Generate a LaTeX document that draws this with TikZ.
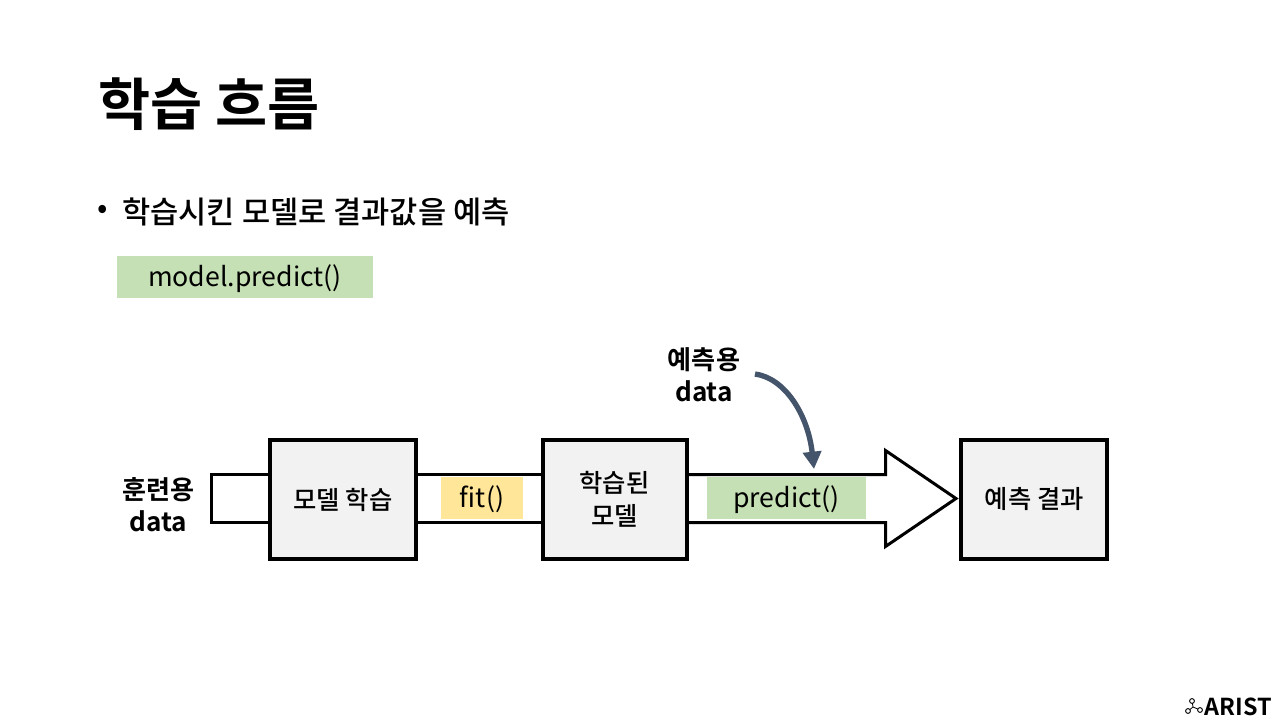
\documentclass[tikz,border=0pt]{standalone}
\usepackage{fontspec}
\setmainfont{Noto Sans CJK KR}
\newfontfamily\medf{Noto Sans CJK KR Medium}
\newfontfamily\boldf{Noto Sans CJK KR Bold}
\usetikzlibrary{calc,arrows.meta}
\definecolor{boxfill}{HTML}{F2F2F2}
\definecolor{greenhl}{HTML}{C5E0B4}
\definecolor{yellowhl}{HTML}{FFE699}
\definecolor{slatec}{HTML}{44546A}
\tikzset{
  x=0.75pt,y=-0.75pt,
  stagebox/.style={draw=black,fill=boxfill,line width=3pt,minimum width=109.5pt,minimum height=89.25pt,inner sep=0pt,align=center,font=\medf\fontsize{19}{25}\selectfont},
  hl/.style={inner sep=0pt,minimum height=31.5pt,text height=18pt,text depth=4pt,font=\fontsize{20}{24}\selectfont},
  pipe/.style={line width=2.25pt,draw=black,line join=miter},
  lab/.style={inner sep=0pt,align=center,font=\boldf\fontsize{19.6}{24}\selectfont},
}
\begin{document}
\begin{tikzpicture}
\useasboundingbox (0,0) rectangle (1280,720);
\fill[white] (0,0) rectangle (1280,720);
\node[anchor=west,inner sep=0pt,font=\boldf\fontsize{42.5}{50}\selectfont] (title) at (98,104) {학습 흐름};
\node[anchor=west,inner sep=0pt,font=\fontsize{23}{28}\selectfont] (bullet) at (97,212) {•};
\node[anchor=west,inner sep=0pt,font=\medf\fontsize{23}{28}\selectfont] (sub) at (122,212) {학습시킨 모델로 결과값을 예측};
\node[hl,fill=greenhl,minimum width=192pt] (code) at (245,277) {model.predict()};
% connectors behind the boxes
\node[stagebox] (train) at (343,499.5) {모델 학습};
\node[stagebox,minimum width=108pt] (model) at (614.5,499.5) {학습된\\모델};
\node[stagebox,minimum width=109.5pt] (result) at (1034.25,499.5) {예측 결과};
\node[lab] (trainlab) at (158.5,505) {훈련용\\data};
\node[lab] (predlab) at (704,375) {예측용\\data};
\coordinate (bl) at (211.5,498.5);
\draw[pipe] (train.west |- 0,474.5) -- (bl |- 0,474.5) -- (bl |- 0,522.5) -- (train.west |- 0,522.5);
\draw[pipe] (train.east |- 0,474.5) -- (model.west |- 0,474.5);
\draw[pipe] (train.east |- 0,522.5) -- (model.west |- 0,522.5);
\coordinate (headx) at (885.5,498.5);
\draw[pipe,miter limit=10] (model.east |- 0,474.5) -- (headx |- 0,474.5) -- (headx |- 0,450.5) -- (956,498.5) -- (headx |- 0,546.5) -- (headx |- 0,522.5) -- (model.east |- 0,522.5);
\node[hl,fill=yellowhl,minimum width=61.5pt] (fit) at (482,498) {fit()};
\node[hl,fill=greenhl,minimum width=119.25pt] (predict) at (786.5,498) {predict()};
\coordinate (cs) at (755,374);
\coordinate (ce) at (814,469);
\draw[slatec,line width=4pt,-{Triangle[length=13pt,width=13.5pt]}] (cs) .. controls (785,378) and (808,415) .. (ce);
% logo
\node[anchor=east,inner sep=0pt,font=\boldf\fontsize{17.5}{20}\selectfont] (logo) at (1272,707) {ARIST};
\coordinate (l1) at (1192,701);
\coordinate (l2) at (1188,711);
\coordinate (l3) at (1200,710);
\coordinate (l0) at (1193,707);
\draw[line width=.6pt] (l1) -- (l0) (l2) -- (l0) (l3) -- (l0);
\foreach \c in {l1,l2,l3} \draw[line width=.7pt,fill=white] (\c) circle[radius=2.4];
\end{tikzpicture}
\end{document}
